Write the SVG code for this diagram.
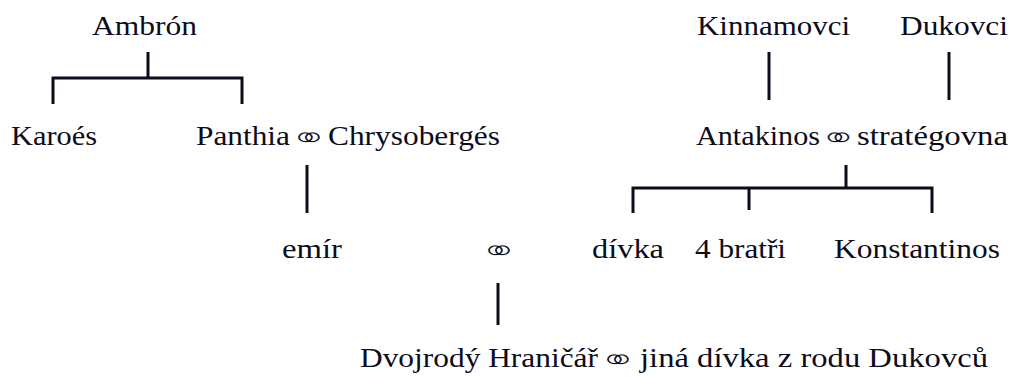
<svg xmlns="http://www.w3.org/2000/svg" width="1013" height="378" viewBox="0 0 1013 378">
<style>
text{font-family:"Liberation Serif","DejaVu Serif",serif;font-size:28px;fill:#0c0c1c}
text.m{font-family:"DejaVu Sans",sans-serif;font-size:28px;text-anchor:middle;stroke:#ffffff;stroke-width:0.9}
.c{stroke:#0c0c1c;stroke-width:3;fill:none;stroke-linecap:butt}
</style>
<rect width="1013" height="378" fill="#ffffff"/>
<g id="connectors">
<path class="c" d="M148 52V78M53 104V78H242V104"/>
<path class="c" d="M769 52V100"/>
<path class="c" d="M949 52V100"/>
<path class="c" d="M307 165V213"/>
<path class="c" d="M846 165V188M633 213V188H932V213M749 188V210"/>
<path class="c" d="M498 283V325"/>
</g>
<g id="ambron"><text x="92" y="35" textLength="105" lengthAdjust="spacingAndGlyphs">Ambrón</text></g>
<g id="kinnamovci"><text x="697" y="35" textLength="153" lengthAdjust="spacingAndGlyphs">Kinnamovci</text></g>
<g id="dukovci"><text x="900" y="35" textLength="108" lengthAdjust="spacingAndGlyphs">Dukovci</text></g>
<g id="karoes"><text x="11" y="145" textLength="86" lengthAdjust="spacingAndGlyphs">Karoés</text></g>
<g id="panthia">
<text x="196" y="145" textLength="94" lengthAdjust="spacingAndGlyphs">Panthia</text>
<text class="m" transform="translate(309 138) scale(1.7 1.15)" y="9.5">⚭</text>
<text x="328" y="145" textLength="172" lengthAdjust="spacingAndGlyphs">Chrysobergés</text>
</g>
<g id="antakinos">
<text x="696" y="145" textLength="124" lengthAdjust="spacingAndGlyphs">Antakinos</text>
<text class="m" transform="translate(838.5 138) scale(1.7 1.15)" y="9.5">⚭</text>
<text x="857" y="145" textLength="151" lengthAdjust="spacingAndGlyphs">stratégovna</text>
</g>
<g id="emir"><text x="282" y="258" textLength="60" lengthAdjust="spacingAndGlyphs">emír</text></g>
<g id="marriage"><text class="m" transform="translate(499 251) scale(1.7 1.15)" y="9.5">⚭</text></g>
<g id="divka"><text x="592" y="258" textLength="72" lengthAdjust="spacingAndGlyphs">dívka</text></g>
<g id="bratri"><text x="695" y="258" textLength="91" lengthAdjust="spacingAndGlyphs">4 bratři</text></g>
<g id="konstantinos"><text x="834" y="258" textLength="166" lengthAdjust="spacingAndGlyphs">Konstantinos</text></g>
<g id="dvojrody">
<text x="360" y="367" textLength="238" lengthAdjust="spacingAndGlyphs">Dvojrodý Hraničář</text>
<text class="m" transform="translate(618 360) scale(1.7 1.15)" y="9.5">⚭</text>
<text x="640" y="367" textLength="348" lengthAdjust="spacingAndGlyphs">jiná dívka z rodu Dukovců</text>
</g>
</svg>
